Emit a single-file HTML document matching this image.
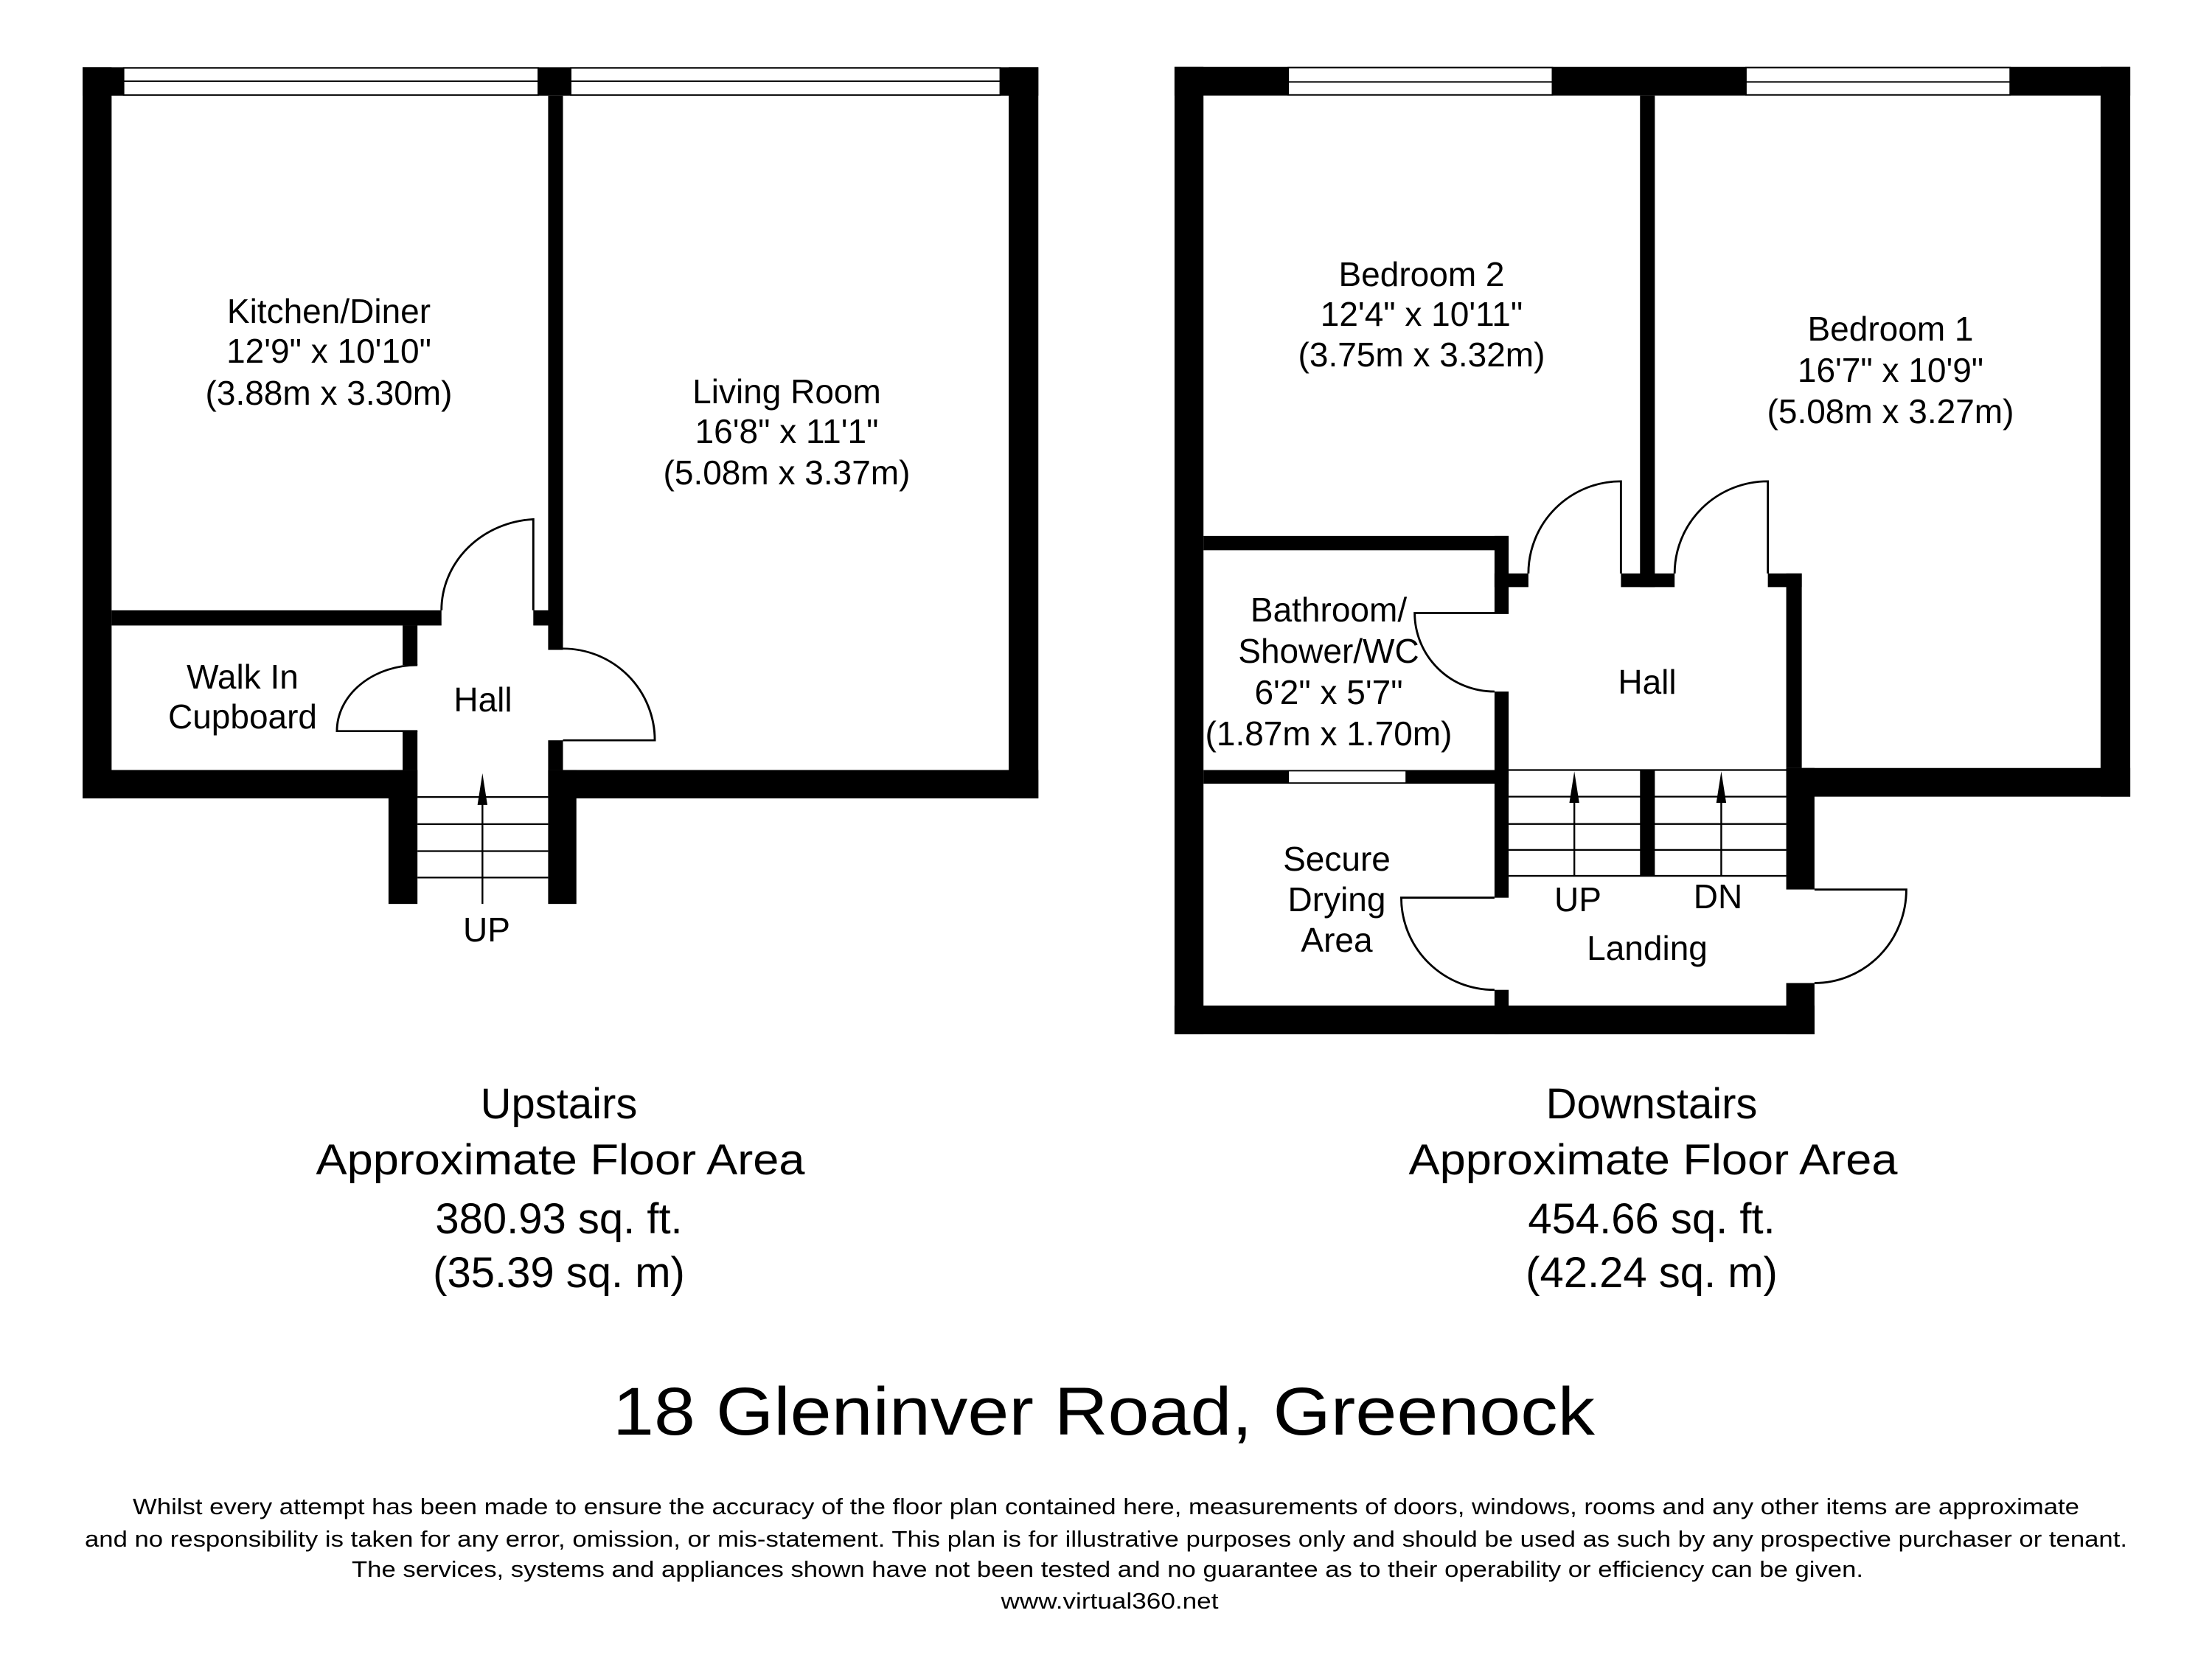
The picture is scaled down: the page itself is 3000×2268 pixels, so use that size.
<!DOCTYPE html>
<html><head><meta charset="utf-8"><style>html,body{margin:0;padding:0;background:#fff}svg{display:block}</style></head>
<body>
<svg width="3000" height="2268" viewBox="0 0 3000 2268" xmlns="http://www.w3.org/2000/svg" font-family="Liberation Sans, Arial, sans-serif" fill="#000">
<rect width="3000" height="2268" fill="#fff"/>
<!-- LEFT PLAN -->
<g transform="scale(0.958,0.895)">
<rect x="117" y="102" width="1353" height="43"/>
<rect x="117" y="102" width="41" height="1108"/>
<rect x="1428" y="102" width="42" height="1108"/>
<rect x="117" y="1167" width="474" height="43"/>
<rect x="776" y="1167" width="694" height="43"/>
<rect x="550" y="1167" width="41" height="203"/>
<rect x="776" y="1167" width="40" height="203"/>
<rect x="776" y="145" width="21" height="840"/>
<rect x="776" y="1122" width="21" height="45"/>
<rect x="158" y="925" width="467" height="23"/>
<rect x="755" y="925" width="42" height="23"/>
<rect x="570" y="948" width="21" height="60"/>
<rect x="570" y="1108" width="21" height="59"/>
<g fill="#fff" stroke="#000" stroke-width="2">
<rect x="175" y="103" width="587" height="41"/>
<rect x="808" y="103" width="608" height="41"/>
</g>
<g stroke="#000" stroke-width="2"><line x1="175" y1="123" x2="762" y2="123"/><line x1="808" y1="123" x2="1416" y2="123"/></g>
<g stroke="#000" stroke-width="2.5">
<line x1="591" y1="1208" x2="776" y2="1208"/><line x1="591" y1="1249" x2="776" y2="1249"/><line x1="591" y1="1290" x2="776" y2="1290"/><line x1="591" y1="1330" x2="776" y2="1330"/>
<line x1="683" y1="1370" x2="683" y2="1200"/>
</g>
<polygon points="683,1172 676,1220 690,1220"/>
<g fill="none" stroke="#000" stroke-width="3">
<path d="M755,925 L755,787 A138,138 0 0 0 625,925"/>
<path d="M591,1108 L477,1108 A114,100 0 0 1 591,1008"/>
<path d="M797,1122 L927,1122 A130,139 0 0 0 797,983"/>
</g>
</g>
<g font-size="46" text-anchor="middle">
<text x="446" y="438">Kitchen/Diner</text>
<text x="446" y="492">12'9" x 10'10"</text>
<text x="446" y="549">(3.88m x 3.30m)</text>
<text x="1067" y="547">Living Room</text>
<text x="1067" y="601">16'8" x 11'1"</text>
<text x="1067" y="657">(5.08m x 3.37m)</text>
<text x="329" y="934">Walk In</text>
<text x="329" y="988">Cupboard</text>
<text x="655" y="965">Hall</text>
<text x="660" y="1277">UP</text>
</g>
<!-- RIGHT PLAN -->
<g transform="translate(1500,0) scale(0.958,0.926)">
<rect x="97" y="98" width="1353" height="42"/>
<rect x="97" y="98" width="41" height="1417"/>
<rect x="1408" y="98" width="42" height="1069"/>
<rect x="963" y="1125" width="487" height="42"/>
<rect x="756" y="140" width="21" height="720"/>
<rect x="729" y="840" width="76" height="20"/>
<rect x="550" y="840" width="48" height="20"/>
<rect x="138" y="785" width="432" height="21"/>
<rect x="550" y="785" width="20" height="113"/>
<rect x="550" y="1013" width="20" height="302"/>
<rect x="550" y="1450" width="20" height="65"/>
<rect x="937" y="840" width="48" height="20"/>
<rect x="963" y="840" width="22" height="285"/>
<rect x="963" y="1125" width="40" height="178"/>
<rect x="963" y="1440" width="40" height="75"/>
<rect x="138" y="1128" width="432" height="20"/>
<rect x="97" y="1473" width="906" height="42"/>
<rect x="756" y="1128" width="21" height="155"/>
<g fill="#fff" stroke="#000" stroke-width="2">
<rect x="258" y="99" width="374" height="40"/>
<rect x="906" y="99" width="374" height="40"/>
<rect x="258" y="1129" width="167" height="18"/>
</g>
<g stroke="#000" stroke-width="2"><line x1="258" y1="120" x2="632" y2="120"/><line x1="906" y1="120" x2="1280" y2="120"/></g>
<g stroke="#000" stroke-width="2.5">
<line x1="570" y1="1128" x2="963" y2="1128"/>
<line x1="570" y1="1167" x2="963" y2="1167"/><line x1="570" y1="1207" x2="963" y2="1207"/><line x1="570" y1="1245" x2="963" y2="1245"/><line x1="570" y1="1283" x2="963" y2="1283"/>
<line x1="663" y1="1283" x2="663" y2="1160"/><line x1="871" y1="1283" x2="871" y2="1160"/>
</g>
<polygon points="663,1130 656,1176 670,1176"/>
<polygon points="871,1130 864,1176 878,1176"/>
<g fill="none" stroke="#000" stroke-width="3">
<path d="M729,840 L729,705 A131,135 0 0 0 598,840"/>
<path d="M937,840 L937,705 A132,135 0 0 0 805,840"/>
<path d="M570,898 L437,898 A113,115 0 0 0 550,1013"/>
<path d="M550,1315 L418,1315 A132,135 0 0 0 550,1450"/>
<path d="M1003,1303 L1133,1303 A130,137 0 0 1 1003,1440"/>
</g>
</g>
<g font-size="46" text-anchor="middle">
<text x="1928" y="388">Bedroom 2</text>
<text x="1928" y="442">12'4" x 10'11"</text>
<text x="1928" y="497">(3.75m x 3.32m)</text>
<text x="2564" y="462">Bedroom 1</text>
<text x="2564" y="518">16'7" x 10'9"</text>
<text x="2564" y="574">(5.08m x 3.27m)</text>
<text x="1802" y="843">Bathroom/</text>
<text x="1802" y="899">Shower/WC</text>
<text x="1802" y="955">6'2" x 5'7"</text>
<text x="1802" y="1011">(1.87m x 1.70m)</text>
<text x="2234" y="941">Hall</text>
<text x="1813" y="1181">Secure</text>
<text x="1813" y="1236">Drying</text>
<text x="1813" y="1291">Area</text>
<text x="2140" y="1236">UP</text>
<text x="2330" y="1232">DN</text>
<text x="2234" y="1302">Landing</text>
</g>
<!-- BOTTOM TEXT -->
<g font-size="58" text-anchor="middle">
<text x="758" y="1517">Upstairs</text>
<text x="760" y="1593" textLength="663" lengthAdjust="spacingAndGlyphs">Approximate Floor Area</text>
<text x="758" y="1673">380.93 sq. ft.</text>
<text x="758" y="1746">(35.39 sq. m)</text>
<text x="2240" y="1517">Downstairs</text>
<text x="2242" y="1593" textLength="663" lengthAdjust="spacingAndGlyphs">Approximate Floor Area</text>
<text x="2240" y="1673">454.66 sq. ft.</text>
<text x="2240" y="1746">(42.24 sq. m)</text>
</g>
<text x="1497" y="1946" font-size="92" text-anchor="middle" textLength="1332" lengthAdjust="spacingAndGlyphs">18 Gleninver Road, Greenock</text>
<g font-size="31" text-anchor="middle">
<text x="1500" y="2054" textLength="2640" lengthAdjust="spacingAndGlyphs">Whilst every attempt has been made to ensure the accuracy of the floor plan contained here, measurements of doors, windows, rooms and any other items are approximate</text>
<text x="1500" y="2098" textLength="2770" lengthAdjust="spacingAndGlyphs">and no responsibility is taken for any error, omission, or mis-statement. This plan is for illustrative purposes only and should be used as such by any prospective purchaser or tenant.</text>
<text x="1502" y="2139" textLength="2050" lengthAdjust="spacingAndGlyphs">The services, systems and appliances shown have not been tested and no guarantee as to their operability or efficiency can be given.</text>
<text x="1505" y="2182" textLength="295" lengthAdjust="spacingAndGlyphs">www.virtual360.net</text>
</g>
</svg>
</body></html>
